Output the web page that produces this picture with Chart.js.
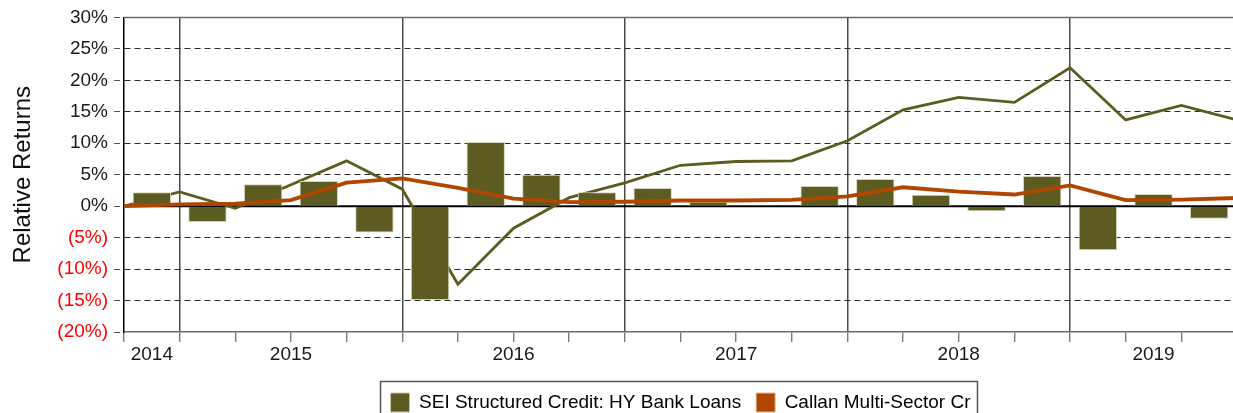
<!DOCTYPE html>
<html>
<head>
<meta charset="utf-8">
<script src="https://cdn.jsdelivr.net/npm/chart.js@4.4.0/dist/chart.umd.min.js"></script>
<style>
  html, body { margin: 0; padding: 0; background: #fff; overflow: hidden; }
  #wrap { width: 1240px; height: 422px; }
</style>
</head>
<body>
<div id="wrap"><canvas id="chart" width="1240" height="422"></canvas></div>
<script>
// quarters shown (Q4 2014 .. Q3 2019)
const quarters = [
  '2014 Q4',
  '2015 Q1', '2015 Q2', '2015 Q3', '2015 Q4',
  '2016 Q1', '2016 Q2', '2016 Q3', '2016 Q4',
  '2017 Q1', '2017 Q2', '2017 Q3', '2017 Q4',
  '2018 Q1', '2018 Q2', '2018 Q3', '2018 Q4',
  '2019 Q1', '2019 Q2', '2019 Q3'
];
const yearLabels = ['2014', '2015', '2016', '2017', '2018', '2019'];

// quarterly relative return (bars)
const seiQuarterly = [2.2, -2.5, 3.5, 4.0, -4.2, -14.9, 10.2, 5.0, 2.2, 2.9, 0.7, 0.1, 3.2, 4.3, 1.8, -0.8, 4.8, -7.0, 1.95, -2.0];

// cumulative relative returns at each quarter end (first value = start)
const seiCumulative = [0, 2.25, -0.35, 3.4, 7.2, 2.7, -12.4, -3.5, 1.35, 3.7, 6.5, 7.1, 7.2, 10.4, 15.3, 17.3, 16.5, 22.0, 13.7, 16.0, 13.7];
const callanCumulative = [0, 0.27, 0.4, 0.95, 3.75, 4.4, 2.9, 1.2, 0.65, 0.7, 0.9, 0.9, 1.0, 1.55, 3.0, 2.3, 1.85, 3.3, 0.95, 1.05, 1.3];

const yTickValues = [-20, -15, -10, -5, 0, 5, 10, 15, 20, 25, 30];
const legendNames = ['SEI Structured Credit: HY Bank Loans', 'Callan Multi-Sector Cr'];

const green = '#5c5b21';
const orange = '#b04600';

// year spans in quarter units
const qYears = quarters.map(q => q.slice(0, 4));
const yearMid = yearLabels.map(y => (qYears.indexOf(y) + qYears.lastIndexOf(y) + 1) / 2);
const yearStarts = yearLabels.slice(1).map(y => qYears.indexOf(y));

const barPoints = seiQuarterly.map((v, i) => ({ x: i + 0.5, y: v }));
const seiLine = seiCumulative.map((v, i) => ({ x: i, y: v }));
const callanLine = callanCumulative.map((v, i) => ({ x: i, y: v }));

Chart.defaults.font.family = "'Liberation Sans', Arial, sans-serif";
Chart.defaults.color = '#1a1a1a';

// solid top border and zero line
const refLines = {
  id: 'refLines',
  beforeDatasetsDraw(chart) {
    const { ctx, chartArea: a, scales: { y } } = chart;
    ctx.save();
    ctx.strokeStyle = '#6a6a6a';
    ctx.lineWidth = 1.5;
    ctx.beginPath();
    ctx.moveTo(a.left, a.top);
    ctx.lineTo(a.right, a.top);
    ctx.stroke();
    const y0 = y.getPixelForValue(0);
    ctx.strokeStyle = '#000';
    ctx.lineWidth = 2;
    ctx.beginPath();
    ctx.moveTo(a.left, y0);
    ctx.lineTo(a.right, y0);
    ctx.stroke();
    ctx.restore();
  }
};

// frame around the legend
const legendBox = {
  id: 'legendBox',
  afterDraw(chart) {
    const boxes = chart.legend && chart.legend.legendHitBoxes;
    if (!boxes || !boxes.length) return;
    const first = boxes[0];
    const last = boxes[boxes.length - 1];
    const left = first.left - 10;
    const right = last.left + last.width + 7;
    const top = first.top - 11.5;
    const ctx = chart.ctx;
    ctx.save();
    ctx.strokeStyle = '#555';
    ctx.lineWidth = 1.5;
    ctx.strokeRect(left, top, right - left, 46);
    ctx.restore();
  }
};

new Chart(document.getElementById('chart'), {
  type: 'bar',
  data: {
    datasets: [
      {
        type: 'line',
        label: 'SEI cumulative',
        data: seiLine,
        borderColor: green,
        borderWidth: 2.8,
        pointRadius: 0,
        tension: 0,
        order: 3
      },
      {
        type: 'bar',
        label: legendNames[0],
        data: barPoints,
        backgroundColor: green,
        borderColor: '#d4d4bc',
        borderWidth: 1,
        categoryPercentage: 1,
        barPercentage: 0.69,
        order: 2
      },
      {
        type: 'line',
        label: legendNames[1],
        data: callanLine,
        borderColor: orange,
        borderWidth: 3.8,
        pointRadius: 0,
        tension: 0,
        order: 1
      }
    ]
  },
  options: {
    responsive: false,
    animation: false,
    devicePixelRatio: 1,
    layout: { padding: { top: 15, right: 3, left: 0, bottom: 0 } },
    plugins: {
      tooltip: { enabled: false },
      legend: {
        position: 'bottom',
        fullSize: false,
        align: 'center',
        labels: {
          boxWidth: 19,
          boxHeight: 19,
          padding: 15,
          color: '#1a1a1a',
          font: { size: 19 },
          generateLabels: () => [
            { text: legendNames[0], fillStyle: green, strokeStyle: '#c8c8a8', lineWidth: 1, hidden: false, datasetIndex: 1 },
            { text: legendNames[1], fillStyle: orange, strokeStyle: '#e0b890', lineWidth: 1, hidden: false, datasetIndex: 2 }
          ]
        }
      }
    },
    scales: {
      x: {
        type: 'linear',
        position: 'bottom',
        min: 0,
        max: quarters.length,
        offset: false,
        weight: 0,
        afterBuildTicks: s => {
          s.ticks = seiCumulative.map((v, i) => ({ value: i }));
        },
        afterFit: s => { s.height = 10; },
        ticks: { display: false, autoSkip: false },
        grid: {
          offset: false,
          color: c => (c.tick && yearStarts.includes(c.tick.value)) ? '#4a4a4a' : 'rgba(0,0,0,0)',
          lineWidth: 1.5,
          tickColor: '#666',
          tickWidth: 1.2,
          tickLength: 10
        },
        border: { color: '#6a6a6a', width: 1.5 }
      },
      x2: {
        type: 'linear',
        axis: 'x',
        position: 'bottom',
        min: 0,
        max: quarters.length,
        offset: false,
        weight: 1,
        afterBuildTicks: s => {
          s.ticks = yearMid.map(v => ({ value: v }));
        },
        afterFit: s => { s.height = 36; },
        ticks: {
          autoSkip: false,
          maxRotation: 0,
          padding: 1,
          font: { size: 19 },
          color: '#1a1a1a',
          callback: (v, i) => yearLabels[i]
        },
        grid: { display: false, drawTicks: false },
        border: { display: false }
      },
      y: {
        min: -20,
        max: 30,
        afterBuildTicks: s => {
          s.ticks = yTickValues.map(v => ({ value: v }));
        },
        afterFit: s => { s.width = 124; },
        ticks: {
          padding: 6,
          font: { size: 19 },
          color: c => c.tick.value < 0 ? '#ff0000' : '#1a1a1a',
          callback: v => v < 0 ? '(' + (-v) + '%)' : v + '%'
        },
        grid: {
          color: c => (c.tick && [-20, 0, 30].includes(c.tick.value)) ? 'rgba(0,0,0,0)' : '#2a2a2a',
          lineWidth: 1,
          tickColor: '#555',
          tickLength: 10,
          tickBorderDash: [6, 4]
        },
        border: { color: '#000', width: 1.5, dash: [6, 4] },
        title: {
          display: true,
          text: 'Relative Returns',
          color: '#111',
          font: { size: 24 },
          padding: { top: 9, bottom: 0 }
        }
      }
    }
  },
  plugins: [refLines, legendBox]
});
</script>
</body>
</html>
